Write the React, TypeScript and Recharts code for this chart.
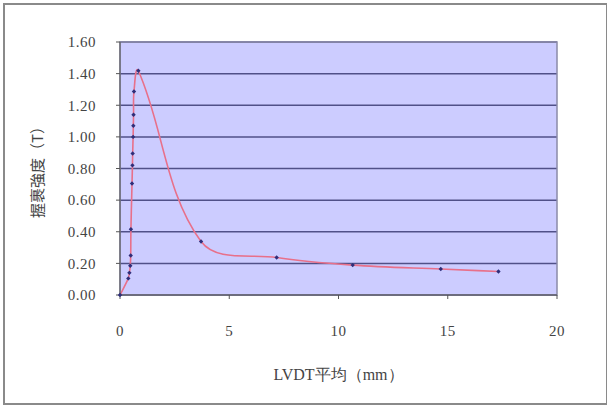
import React from 'react';
import {
  CartesianGrid,
  Line,
  LineChart,
  ReferenceArea,
  XAxis,
  YAxis,
} from 'recharts';

// LVDT average displacement (mm)
const lvdtValues = [
  0, 0.38, 0.43, 0.47, 0.49, 0.5, 0.55, 0.57, 0.58, 0.6, 0.61, 0.62, 0.64, 0.84,
  3.71, 7.17, 10.65, 14.68, 17.32,
];

// bond strength (T)
const strengthValues = [
  0, 0.105, 0.14, 0.185, 0.25, 0.416, 0.705, 0.82, 0.895, 1.0, 1.07, 1.14, 1.287,
  1.418, 0.338, 0.237, 0.189, 0.164, 0.149,
];

const xTicks = [0, 5, 10, 15, 20];
const yTicks = [0, 0.2, 0.4, 0.6, 0.8, 1.0, 1.2, 1.4, 1.6];

const data = lvdtValues.map((x, i) => ({ x, y: strengthValues[i] }));

const serif = '"Liberation Serif", "Times New Roman", "DejaVu Serif", serif';
const tickFont = { fontFamily: serif, fontSize: 15, fill: '#444', letterSpacing: 0.5 };

// smoothed line through the points, tangent length scaled by segment length
function excelSmooth(context: any) {
  let pts: [number, number][] = [];
  const unit = (a: [number, number], b: [number, number]) => {
    const dx = b[0] - a[0];
    const dy = b[1] - a[1];
    const l = Math.hypot(dx, dy) || 1;
    return [dx / l, dy / l];
  };
  return {
    areaStart() {},
    areaEnd() {},
    lineStart() {
      pts = [];
    },
    point(x: number, y: number) {
      pts.push([+x, +y]);
    },
    lineEnd() {
      if (!pts.length) return;
      context.moveTo(pts[0][0], pts[0][1]);
      for (let i = 0; i < pts.length - 1; i++) {
        const p0 = pts[i - 1] || pts[i];
        const p1 = pts[i];
        const p2 = pts[i + 1];
        const p3 = pts[i + 2] || p2;
        const len = Math.hypot(p2[0] - p1[0], p2[1] - p1[1]) / 3;
        const t1 = unit(p0, p2);
        const t2 = unit(p1, p3);
        context.bezierCurveTo(
          p1[0] + t1[0] * len,
          p1[1] + t1[1] * len,
          p2[0] - t2[0] * len,
          p2[1] - t2[1] * len,
          p2[0],
          p2[1]
        );
      }
    },
  };
}

const Diamond = (props: any) => {
  const { cx, cy } = props;
  if (cx == null || cy == null) return null;
  const s = 2.2;
  return (
    <path
      d={`M${cx},${cy - s} L${cx + s},${cy} L${cx},${cy + s} L${cx - s},${cy} Z`}
      fill="#2e2e7a"
    />
  );
};

export default function App() {
  return (
    <div
      style={{
        position: 'absolute',
        left: 0,
        top: 0,
        width: 607,
        height: 405,
        background: '#fff',
        fontFamily: serif,
      }}
    >
      <div
        style={{
          position: 'absolute',
          left: 3,
          top: 3,
          width: 601,
          height: 398,
          border: '2px solid #8a8a8a',
        }}
      />
      <LineChart
        width={607}
        height={405}
        data={data}
        margin={{ top: 42, right: 50, bottom: 80, left: 60 }}
        style={{ position: 'absolute', left: 0, top: 0, fontFamily: serif }}
      >
        <CartesianGrid
          vertical={false}
          fill="#ccccff"
          stroke="#505088"
          strokeWidth={1.5}
          horizontalValues={yTicks}
        />
        <ReferenceArea
          x1={0}
          x2={20}
          y1={0}
          y2={1.6}
          fill="none"
          stroke="#8a8aa8"
          strokeWidth={1.5}
          ifOverflow="visible"
        />
        <XAxis
          type="number"
          dataKey="x"
          domain={[0, 20]}
          ticks={xTicks}
          tick={tickFont}
          tickSize={4}
          tickMargin={26}
          stroke="#555"
          height={30}
          label={{
            value: 'LVDT平均（mm）',
            position: 'insideBottom',
            offset: -55,
            fontFamily: serif,
            fontSize: 16,
            fill: '#444',
          }}
        />
        <YAxis
          type="number"
          domain={[0, 1.6]}
          ticks={yTicks}
          tickFormatter={(v: number) => v.toFixed(2)}
          tick={tickFont}
          tickSize={4}
          tickMargin={20}
          stroke="#555"
          width={60}
          label={{
            value: '握裹強度（T）',
            angle: -90,
            position: 'insideLeft',
            offset: -22,
            style: {
              fontFamily: '"Noto Sans CJK TC", sans-serif',
              fontSize: 15,
              fill: '#444',
              textAnchor: 'middle',
            },
          }}
        />
        <Line
          type={excelSmooth as any}
          dataKey="y"
          stroke="#e8708a"
          strokeWidth={1.6}
          dot={<Diamond />}
          activeDot={false}
          isAnimationActive={false}
        />
      </LineChart>
    </div>
  );
}
